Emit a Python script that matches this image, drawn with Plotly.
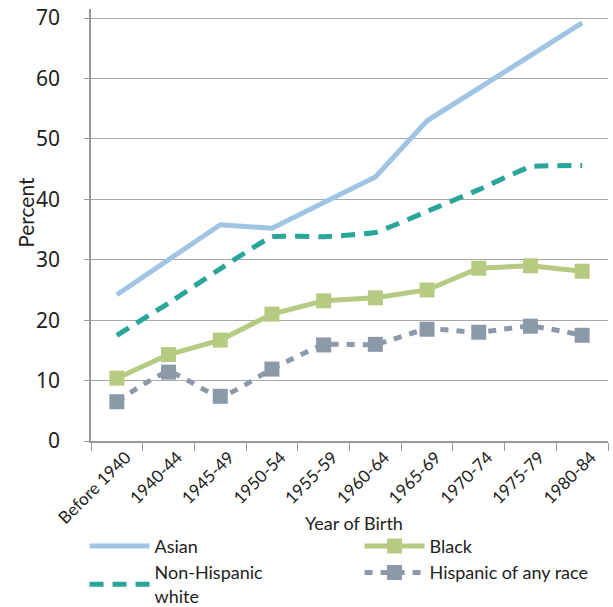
import plotly.graph_objects as go

categories = ["Before 1940", "1940-44", "1945-49", "1950-54", "1955-59",
              "1960-64", "1965-69", "1970-74", "1975-79", "1980-84"]
asian = [24.2, 30.0, 35.8, 35.2, 39.4, 43.7, 53.0, 58.4, 63.8, 69.2]
nh_white = [17.5, 22.8, 28.5, 33.8, 33.8, 34.5, 38.0, 41.6, 45.4, 45.6]
black = [10.4, 14.3, 16.7, 21.0, 23.2, 23.7, 25.0, 28.6, 29.0, 28.1]
hispanic = [6.5, 11.4, 7.4, 11.9, 15.9, 16.0, 18.5, 18.0, 19.0, 17.5]

FONT = "Lato"
TXT = "#222"

fig = go.Figure()
fig.add_trace(go.Scatter(
    x=categories, y=hispanic, name="Hispanic of any race", mode="lines+markers",
    line=dict(color="#8C99A8", width=5, dash="8px,8px", shape="spline", smoothing=0.5),
    marker=dict(symbol="square", size=15, color="#8C99A8"), legendrank=4))
fig.add_trace(go.Scatter(
    x=categories, y=black, name="Black", mode="lines+markers",
    line=dict(color="#B7CA82", width=5),
    marker=dict(symbol="square", size=15, color="#B7CA82"), legendrank=2))
fig.add_trace(go.Scatter(
    x=categories, y=nh_white, name="Non-Hispanic<br>white", mode="lines",
    line=dict(color="#2AA599", width=5, dash="14px,9px", shape="spline", smoothing=0.3),
    legendrank=3))
fig.add_trace(go.Scatter(
    x=categories, y=asian, name="Asian", mode="lines",
    line=dict(color="#A0C4E3", width=5), legendrank=1))

fig.update_layout(
    width=613, height=607,
    margin=dict(l=91, r=5, t=9, b=166, autoexpand=False),
    paper_bgcolor="white", plot_bgcolor="white",
    font=dict(family=FONT, size=18, color=TXT),
    showlegend=True,
    legend=dict(orientation="h", x=-0.0125, xanchor="left", y=-0.201, yanchor="top",
                entrywidth=200, traceorder="normal",
                font=dict(family=FONT, size=18, color=TXT),
                itemwidth=60),
    xaxis=dict(
        type="category", showgrid=False, showline=True, linecolor="#999", linewidth=1.5,
        ticks="outside", ticklen=8, tickcolor="#999", tickson="boundaries",
        tickangle=-45, tickfont=dict(size=17, family=FONT, color=TXT),
        ticklabelshift=9, ticklabelstandoff=-2,
        automargin=False, range=[-0.5, 9.5]),
    yaxis=dict(
        range=[0, 71.5], tickvals=[0, 10, 20, 30, 40, 50, 60, 70],
        showgrid=True, gridcolor="#A8A8A8", gridwidth=1.2,
        showline=True, linecolor="#999", linewidth=1.5,
        ticks="outside", ticklen=5, tickcolor="#999",
        ticklabelstandoff=20, automargin=False,
        tickfont=dict(size=21, family="Noto Sans", color=TXT),
        zeroline=False),
    annotations=[
        dict(text="Percent", xref="paper", yref="paper", x=-0.128, y=0.53,
             xanchor="center", yanchor="middle", textangle=-90, showarrow=False,
             font=dict(size=21, family=FONT, color=TXT)),
        dict(text="Year of Birth", xref="paper", yref="paper", x=0.509, y=-0.19,
             xanchor="center", yanchor="middle", showarrow=False,
             font=dict(size=18, family=FONT, color=TXT)),
    ],
)

fig.write_html("out.html", config={"displayModeBar": False},
               post_script="document.body.style.margin='0';document.body.style.padding='0';")
